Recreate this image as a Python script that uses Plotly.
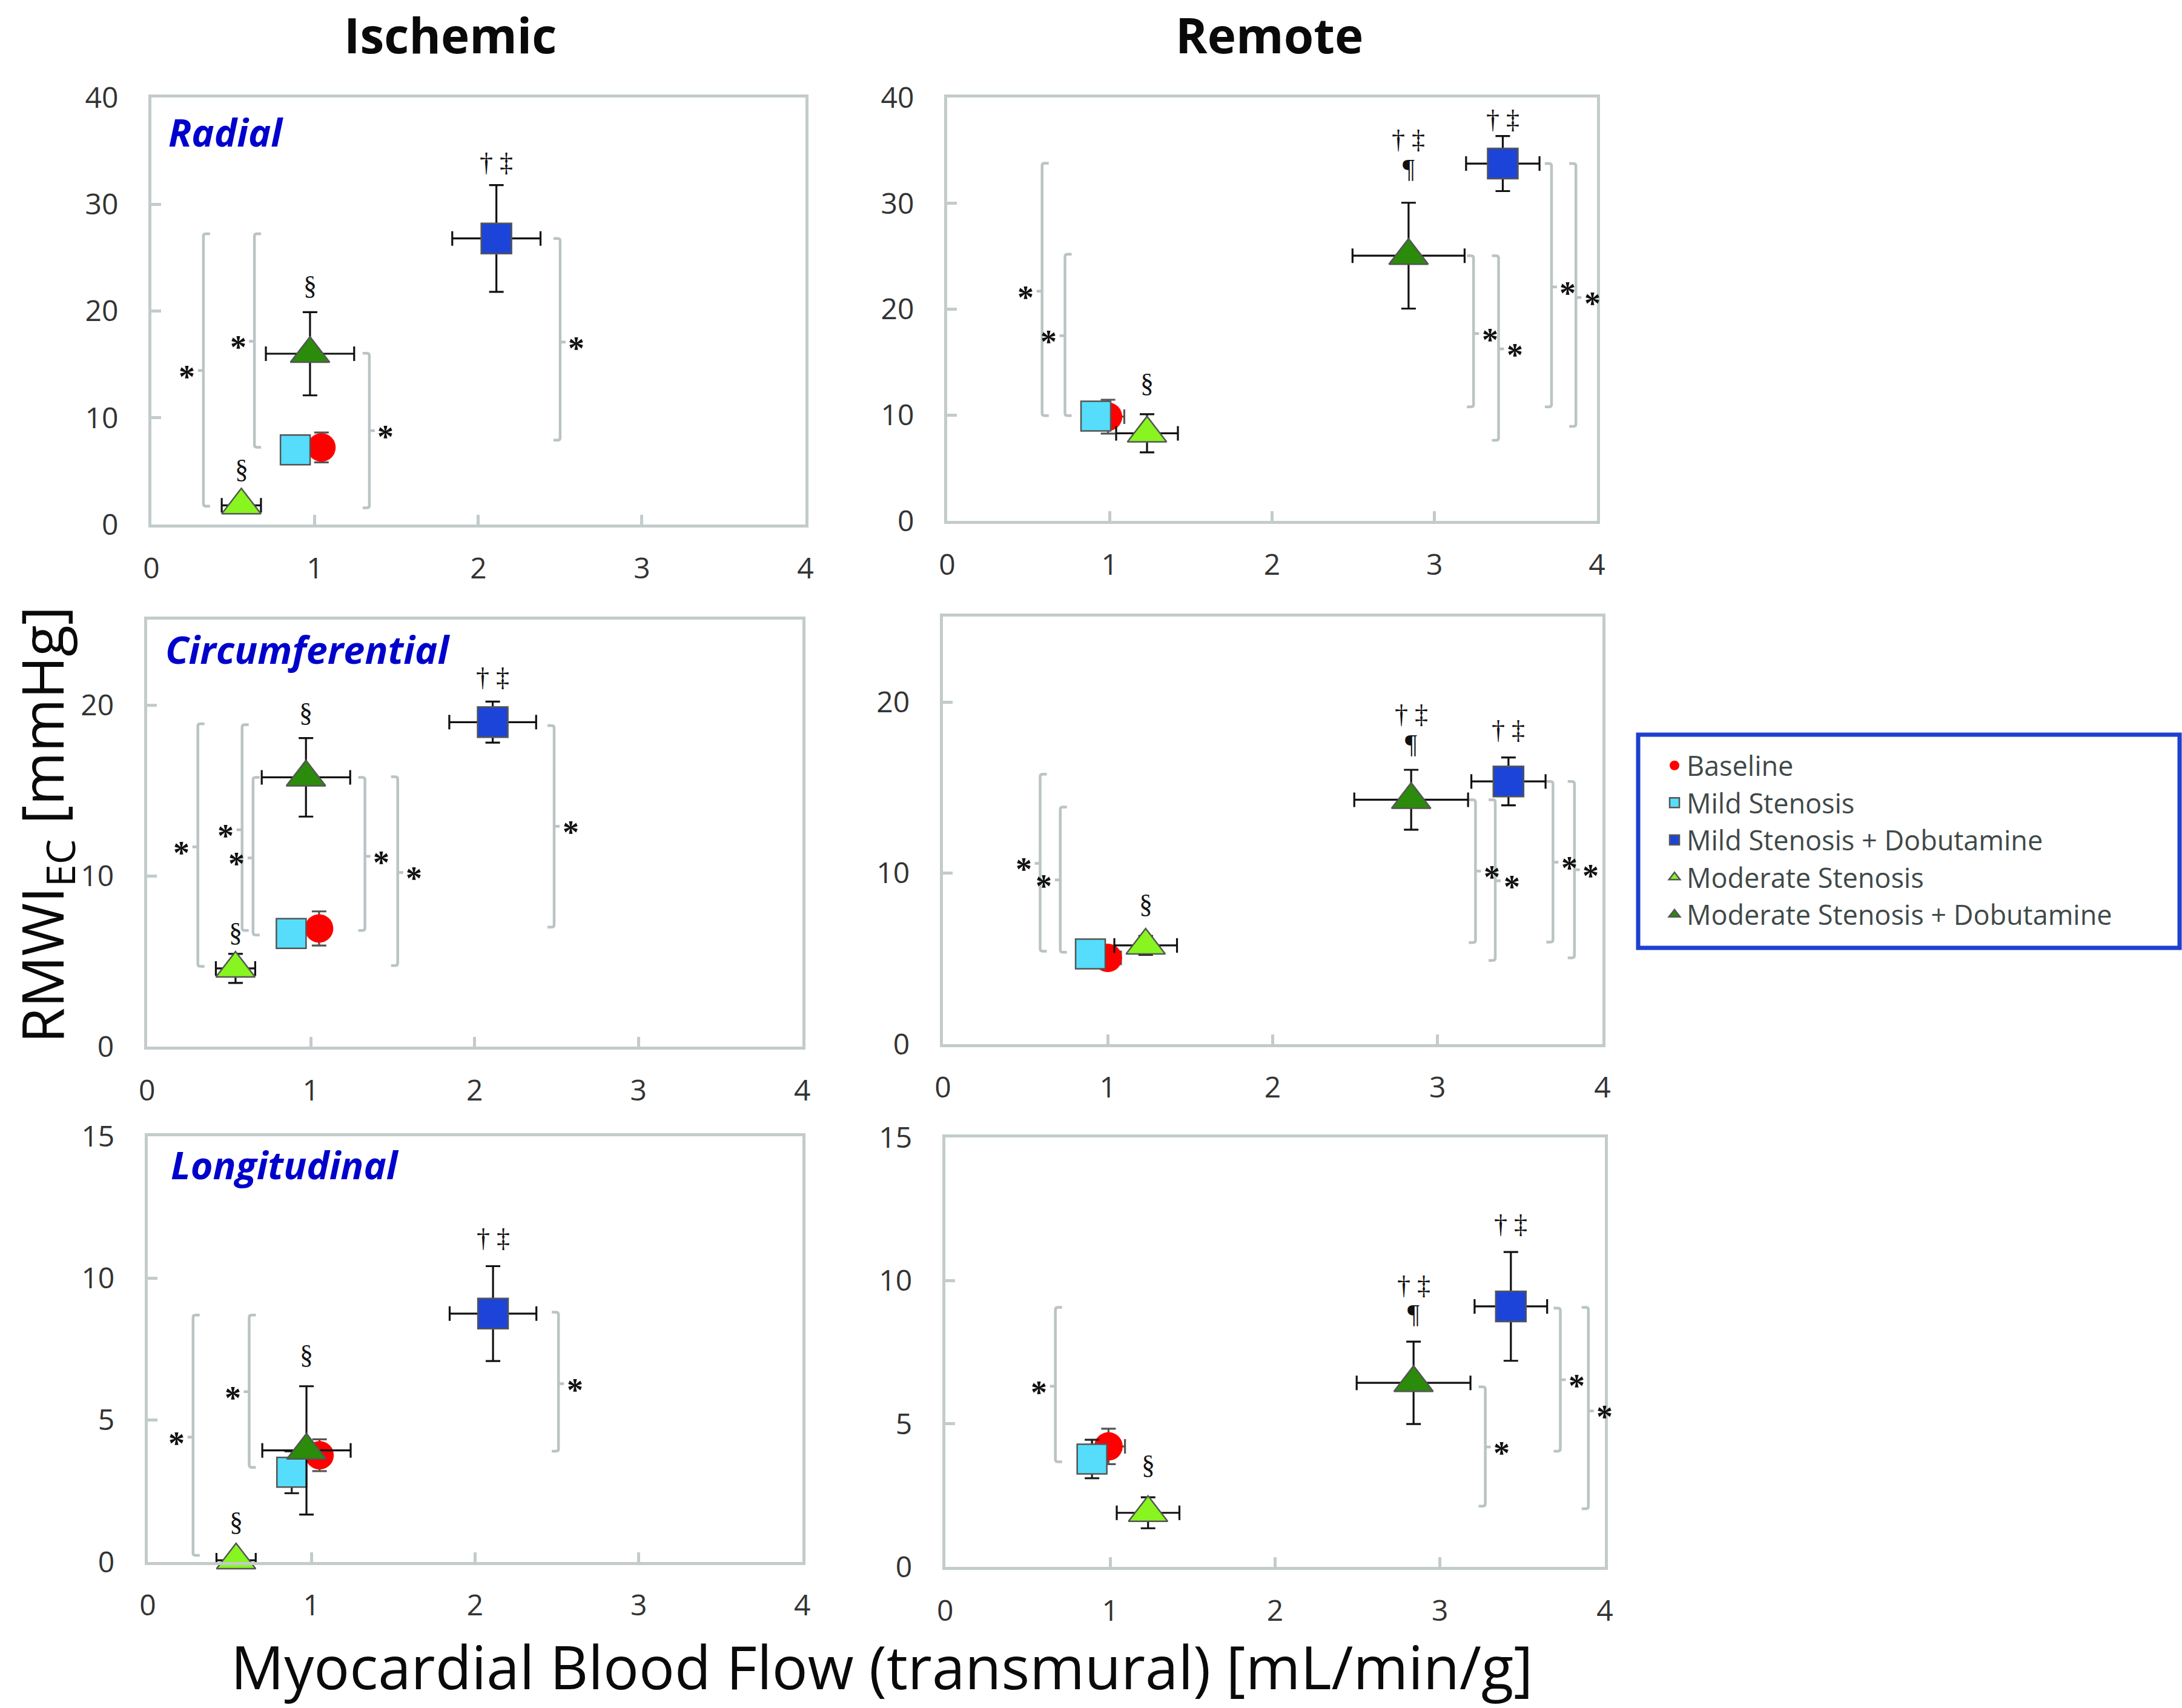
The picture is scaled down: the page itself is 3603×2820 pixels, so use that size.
import plotly.graph_objects as go

# ---------------- data ----------------
series_names = ["Baseline", "Mild Stenosis", "Mild Stenosis + Dobutamine",
                "Moderate Stenosis", "Moderate Stenosis + Dobutamine"]
series_colors = ["#FF0000", "#55DDFB", "#1C44D8", "#88F520", "#2A8C0A"]
series_symbols = ["circle", "square", "square", "triangle-up", "triangle-up"]

column_titles = ["Ischemic", "Remote"]
panel_labels = ["Radial", "", "Circumferential", "", "Longitudinal", ""]
x_ticks = [0, 1, 2, 3, 4]
y_ticks = [[0, 10, 20, 30, 40], [0, 10, 20, 30, 40],
           [0, 10, 20], [0, 10, 20],
           [0, 5, 10, 15], [0, 5, 10, 15]]
y_max = [40, 40, 25, 25, 15, 15]

# panels: Isch-Radial, Rem-Radial, Isch-Circ, Rem-Circ, Isch-Long, Rem-Long
baseline_x = [1.04, 0.99, 1.05, 1.00, 1.05, 0.99]
baseline_y = [7.22, 9.85, 6.92, 5.04, 3.76, 4.21]
baseline_xerr = [0.07, 0.10, 0.05, 0.08, 0.07, 0.10]
baseline_yerr = [1.4, 1.6, 1.0, 0.5, 0.56, 0.62]

mild_x = [0.88, 0.915, 0.88, 0.895, 0.88, 0.89]
mild_y = [7.0, 9.9, 6.63, 5.27, 3.16, 3.77]
mild_xerr = [0.05, 0.05, 0.05, 0.05, 0.05, 0.05]
mild_yerr = [0.6, 0.8, 0.6, 0.5, 0.74, 0.67]

mild_dob_x = [2.11, 3.42, 2.11, 3.43, 2.11, 3.43]
mild_dob_y = [26.8, 33.76, 19.0, 15.36, 8.75, 9.1]
mild_dob_xerr = [0.27, 0.226, 0.265, 0.225, 0.265, 0.22]
mild_dob_yerr = [5.0, 2.6, 1.2, 1.4, 1.67, 1.9]

mod_x = [0.55, 1.23, 0.54, 1.23, 0.54, 1.23]
mod_y = [1.8, 8.28, 4.58, 5.77, 0.06, 1.89]
mod_xerr = [0.12, 0.19, 0.12, 0.19, 0.12, 0.19]
mod_yerr = [0.4, 1.8, 0.85, 0.55, 0.2, 0.54]

mod_dob_x = [0.97, 2.84, 0.97, 2.84, 0.97, 2.84]
mod_dob_y = [16.0, 25.06, 15.77, 14.29, 3.93, 6.43]
mod_dob_xerr = [0.27, 0.345, 0.27, 0.345, 0.27, 0.345]
mod_dob_yerr = [3.9, 5.0, 2.3, 1.75, 2.26, 1.44]

# significance marks: (text, x, y)
marks = [
    [("† ‡", 2.11, 33.9), ("§", 0.97, 22.4), ("§", 0.55, 5.2)],
    [("† ‡", 3.42, 37.9), ("† ‡", 2.84, 36.0), ("¶", 2.84, 33.3), ("§", 1.23, 13.0)],
    [("† ‡", 2.11, 21.6), ("§", 0.97, 19.55), ("§", 0.54, 6.7)],
    [("† ‡", 2.84, 19.27), ("¶", 2.84, 17.55), ("† ‡", 3.43, 18.37), ("§", 1.23, 8.2)],
    [("† ‡", 2.11, 11.4), ("§", 0.97, 7.3), ("§", 0.54, 1.42)],
    [("† ‡", 3.43, 11.96), ("† ‡", 2.84, 9.82), ("¶", 2.84, 8.84), ("§", 1.23, 3.56)],
]

# brackets: (x, y_top, y_bottom, y_star, side)  side -1 = star on left, +1 = star on right
brackets = [
    [(0.318, 27.23, 1.72, 14.43, -1), (0.63, 27.23, 7.24, 17.17, -1),
     (1.333, 16.04, 1.56, 8.8, 1), (2.50, 26.8, 7.9, 17.1, 1)],
    [(0.584, 33.8, 9.95, 21.7, -1), (0.725, 25.2, 9.95, 17.5, -1),
     (3.24, 25.06, 10.77, 17.7, 1), (3.394, 25.06, 7.62, 16.26, 1),
     (3.72, 33.76, 10.77, 22.1, 1), (3.87, 33.76, 8.93, 21.1, 1)],
    [(0.31, 18.9, 4.7, 11.7, -1), (0.58, 18.85, 6.8, 12.7, -1),
     (0.647, 15.77, 6.54, 11.05, -1), (1.33, 15.77, 6.8, 11.15, 1),
     (1.53, 15.8, 4.75, 10.2, 1), (2.485, 18.8, 7.0, 12.9, 1)],
    [(0.59, 15.78, 5.43, 10.57, -1), (0.712, 13.86, 5.37, 9.6, -1),
     (3.23, 14.29, 5.94, 10.12, 1), (3.35, 14.29, 4.89, 9.55, 1),
     (3.70, 15.36, 5.96, 10.64, 1), (3.83, 15.36, 5.04, 10.2, 1)],
    [(0.277, 8.7, 0.23, 4.4, -1), (0.62, 8.7, 3.33, 6.0, -1),
     (2.51, 8.8, 3.9, 6.28, 1)],
    [(0.668, 9.07, 3.67, 6.31, -1), (3.275, 6.29, 2.12, 4.19, 1),
     (3.73, 9.04, 4.04, 6.54, 1), (3.90, 9.07, 2.03, 5.45, 1)],
]

series_x = [baseline_x, mild_x, mild_dob_x, mod_x, mod_dob_x]
series_y = [baseline_y, mild_y, mild_dob_y, mod_y, mod_dob_y]
series_xerr = [baseline_xerr, mild_xerr, mild_dob_xerr, mod_xerr, mod_dob_xerr]
series_yerr = [baseline_yerr, mild_yerr, mild_dob_yerr, mod_yerr, mod_dob_yerr]

# ---------------- layout ----------------
W, H = 3603, 2820
dom_x = [(0.0694, 0.3691), (0.4341, 0.7319), (0.0674, 0.3677),
         (0.4321, 0.7344), (0.0677, 0.3677), (0.4332, 0.7355)]
dom_y = [(0.6929, 0.9429), (0.6950, 0.9429), (0.3872, 0.6372),
         (0.3887, 0.6390), (0.0855, 0.3348), (0.0826, 0.3340)]
label_pos = [(0.024, 0.92), None, (0.026, 0.932), None, (0.033, 0.933), None]

frame_col = "#C3CBCB"
bracket_col = "#BAC4C4"
tick_font = dict(family="Open Sans", size=48, color="#333333")
mark_font = dict(family="Liberation Serif", size=44, color="#111111")
star_font = dict(family="Liberation Serif", size=54, color="#111111")

sizes = [47, 49, 50, 56, 56]
line_w = [0, 2.5, 2.5, 2.5, 2.5]
err_col = ["#555555", "#222222", "#111111", "#111111", "#111111"]

fig = go.Figure()

for p in range(6):
    xa = "x" if p == 0 else f"x{p+1}"
    ya = "y" if p == 0 else f"y{p+1}"
    for s in range(5):
        fig.add_trace(go.Scatter(
            x=[series_x[s][p]], y=[series_y[s][p]],
            xaxis=xa, yaxis=ya, mode="markers", name=series_names[s],
            showlegend=(p == 0), cliponaxis=False,
            marker=dict(symbol=series_symbols[s], size=sizes[s], color=series_colors[s],
                        line=dict(color="#555555" if line_w[s] else series_colors[s], width=line_w[s])),
            error_x=dict(type="data", array=[series_xerr[s][p]], color=err_col[s], thickness=3.2, width=12),
            error_y=dict(type="data", array=[series_yerr[s][p]], color=err_col[s], thickness=3.2, width=12),
        ))

layout = dict(width=W, height=H, margin=dict(l=0, r=0, t=0, b=0, pad=0, autoexpand=False),
              paper_bgcolor="white", plot_bgcolor="white", showlegend=True)

shapes = []
annotations = []
for p in range(6):
    xk = "xaxis" if p == 0 else f"xaxis{p+1}"
    yk = "yaxis" if p == 0 else f"yaxis{p+1}"
    xr = "x" if p == 0 else f"x{p+1}"
    yr = "y" if p == 0 else f"y{p+1}"
    common = dict(showgrid=False, zeroline=False, showline=True, linecolor=frame_col,
                  linewidth=5, mirror=True, ticks="inside", ticklen=16, tickwidth=5,
                  tickcolor=frame_col, tickfont=tick_font, fixedrange=True, automargin=False)
    layout[xk] = dict(domain=list(dom_x[p]), anchor=yr, range=[0, 4], tickvals=x_ticks,
                      ticklabelstandoff=26, **common)
    layout[yk] = dict(domain=list(dom_y[p]), anchor=xr, range=[0, y_max[p]], tickvals=y_ticks[p],
                      ticklabelstandoff=40, **common)

    pw = (dom_x[p][1] - dom_x[p][0]) * W
    ph = (dom_y[p][1] - dom_y[p][0]) * H
    ux = 4.0 / pw          # data units per px (x)
    uy = y_max[p] / ph     # data units per px (y)

    for (bx, yt, yb, ym, side) in brackets[p]:
        d = -side
        t, rx, ry, n = 11 * ux, 4 * ux, 4 * uy, 9 * ux
        path = (f"M {bx + d*t},{yt} L {bx + d*rx},{yt} Q {bx},{yt} {bx},{yt - ry} "
                f"L {bx},{yb + ry} Q {bx},{yb} {bx + d*rx},{yb} L {bx + d*t},{yb} "
                f"M {bx},{ym} L {bx + side*n},{ym}")
        shapes.append(dict(type="path", xref=xr, yref=yr, path=path,
                           line=dict(color=bracket_col, width=4.5), layer="below"))
        annotations.append(dict(x=bx, y=ym, xref=xr, yref=yr, text="<b>*</b>", showarrow=False,
                                xshift=side * 27, yshift=-10, font=star_font))

    for (txt, mx, my) in marks[p]:
        annotations.append(dict(x=mx, y=my, xref=xr, yref=yr, text=txt, showarrow=False,
                                font=mark_font))

    if panel_labels[p]:
        lx, ly = label_pos[p]
        annotations.append(dict(x=lx, y=ly, xref=f"{xr} domain", yref=f"{yr} domain",
                                text=f"<b><i>{panel_labels[p]}</i></b>", showarrow=False,
                                xanchor="left", yanchor="middle",
                                font=dict(family="Open Sans", size=63, color="#0000CC")))

# column titles
for (cx, title) in zip([743 / W, 2096 / W], column_titles):
    annotations.append(dict(x=cx, y=1.0, xref="paper", yref="paper", text=f"<b>{title}</b>",
                            showarrow=False, xanchor="center", yanchor="top",
                            font=dict(family="Open Sans", size=80, color="#0A0A0A")))

# axis titles
annotations.append(dict(x=1456 / W, y=0.0, xref="paper", yref="paper",
                        text="Myocardial Blood Flow (transmural) [mL/min/g]", showarrow=False,
                        xanchor="center", yanchor="bottom",
                        font=dict(family="Open Sans", size=98, color="#0A0A0A")))
annotations.append(dict(x=0.0, y=1 - 1362 / H, xref="paper", yref="paper",
                        text="RMWI<sub>EC</sub> [mmHg]", showarrow=False, textangle=-90,
                        xanchor="left", yanchor="middle",
                        font=dict(family="Open Sans", size=95, color="#0A0A0A")))

# legend frame
shapes.append(dict(type="rect", xref="paper", yref="paper", x0=2705 / W, x1=3599 / W,
                   y0=1 - 1565 / H, y1=1 - 1213 / H, line=dict(color="#1E40D0", width=7),
                   fillcolor="rgba(0,0,0,0)"))

layout["shapes"] = shapes
layout["annotations"] = annotations
layout["legend"] = dict(x=2745 / W, y=1 - 1228 / H, xanchor="left", yanchor="top",
                        bgcolor="rgba(0,0,0,0)", borderwidth=0, itemsizing="trace",
                        tracegroupgap=0,
                        font=dict(family="Open Sans", size=45, color="#3F4949"))
fig.update_layout(**layout)

fig.write_html("out.html", config={"displayModeBar": False},
               post_script="document.body.style.margin='0px';")
